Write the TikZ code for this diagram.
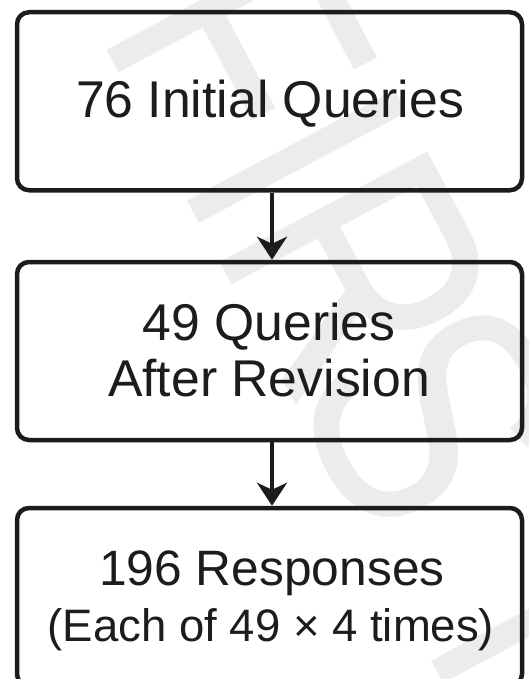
\documentclass[tikz,border=0pt]{standalone}
\usepackage{fontspec}
\setmainfont{Liberation Sans}
\usetikzlibrary{arrows.meta}
\definecolor{wm}{RGB}{236,236,236}
\definecolor{ink}{RGB}{28,28,28}
\begin{document}
\begin{tikzpicture}[x=1pt,y=1pt,
  box/.style={draw=ink, line width=4.5pt, rounded corners=12pt, inner sep=0pt, minimum width=505pt, minimum height=178pt},
  lbl/.style={text=ink, anchor=base, inner sep=0pt},
  big/.style={font=\fontsize{51.7}{60}\selectfont},
  small/.style={font=\fontsize{45.5}{54}\selectfont},
  wmletter/.style={text=wm, rotate=-62, anchor=base, inner sep=0pt, font=\fontsize{342}{342}\selectfont},
  conn/.style={draw=ink, line width=4pt, -{Stealth[length=23pt,width=30pt,inset=7pt]}}]
\useasboundingbox (0,0) rectangle (529,-679);
\clip (0,0) rectangle (529,-679);
% faint watermark, one letter at a time along its slanted baseline
\node[wmletter] (wF) at (136.2,-104.7) {\scalebox{0.8}[1]{F}};
\node[wmletter] (wI) at (193.1,-212.0) {\scalebox{0.8}[1]{I}};
\node[wmletter] (wR) at (255.5,-329.5) {\scalebox{0.8}[1]{R}};
\node[wmletter] (wS) at (329.6,-469.0) {\scalebox{0.8}[1]{S}};
\node[wmletter] (wT) at (437.5,-672.1) {\scalebox{0.8}[1]{T}};
% boxes
\node[box] (b1) at (269.5,-101.25) {};
\node[box] (b2) at (269.5,-351) {};
\node[box] (b3) at (269.5,-597) {};
% labels
\node[lbl, big] (t1) at (270,-118) {76 Initial Queries};
\node[lbl, big] (t2a) at (269,-340) {49 Queries};
\node[lbl, big] (t2b) at (269,-396.7) {After Revision};
\node[lbl, font=\fontsize{49.7}{58}\selectfont] (t3a) at (272,-585) {196 Responses};
\node[lbl, small] (t3b) at (271,-641.7) {(Each of 49 × 4 times)};
% connectors
\coordinate (ax) at (272,0);
\draw[conn] (b1.south -| ax) -- (b2.north -| ax);
\draw[conn] (b2.south -| ax) -- (b3.north -| ax);
\end{tikzpicture}
\end{document}
